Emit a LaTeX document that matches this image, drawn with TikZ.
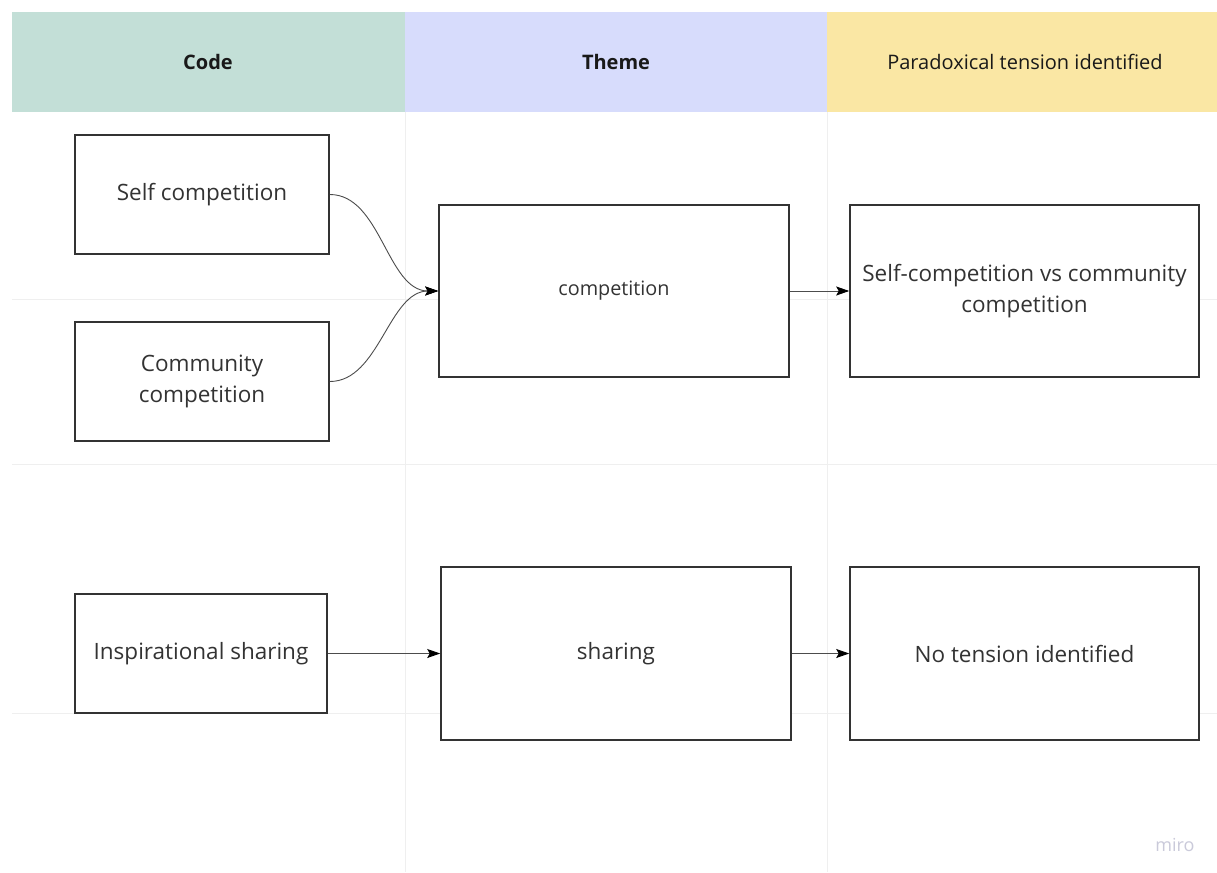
\documentclass[tikz,border=0pt]{standalone}
\usepackage{fontspec}
\setmainfont{Open Sans}
\usetikzlibrary{arrows.meta}
\definecolor{hdgreen}{HTML}{C3DFD7}
\definecolor{hdblue}{HTML}{D7DCFC}
\definecolor{hdyellow}{HTML}{FAE7A4}
\definecolor{gridc}{HTML}{EFEFEF}
\definecolor{boxtext}{HTML}{333333}
\definecolor{wm}{HTML}{CACADA}
\tikzset{
  card/.style={draw=black!80, line width=1.6pt, fill=white, text=boxtext,
    align=center, font=\fontsize{22.5}{31}\selectfont, inner sep=0pt},
  link/.style={draw=black!70, line width=0.9pt,
    -{Stealth[length=13pt,width=9pt,inset=2.5pt,color=black]}},
  headtext/.style={text=black!90, font=\fontsize{20}{24}\selectfont},
  gridline/.style={draw=gridc, line width=1pt}
}
\begin{document}
\begin{tikzpicture}[x=1pt,y=-1pt]
\useasboundingbox[fill=white] (0,0) rectangle (1217,872);
% faint grid
\draw[gridline] (405,112) -- (405,872);
\draw[gridline] (827,112) -- (827,872);
\draw[gridline] (12,299) -- (1217,299);
\draw[gridline] (12,464) -- (1217,464);
\draw[gridline] (12,713) -- (1217,713);
% header band
\fill[hdgreen] (12,12) rectangle (405,112);
\fill[hdblue] (405,12) rectangle (827,112);
\fill[hdyellow] (827,12) rectangle (1217,112);
\node[headtext, font=\fontsize{20}{24}\selectfont\bfseries] (hcode) at (208,62) {Code};
\node[headtext, font=\fontsize{20}{24}\selectfont\bfseries] (htheme) at (616,62) {Theme};
\node[headtext] (htension) at (1025,62) {Paradoxical tension identified};
% cards
\node[card, minimum width=254pt, minimum height=119pt] (self) at (202,194.5) {Self competition};
\node[card, minimum width=254pt, minimum height=119pt] (comm) at (202,381.5) {Community\\competition};
\node[card, minimum width=350pt, minimum height=172pt, font=\fontsize{19.8}{24}\selectfont] (comp) at (614,291) {competition};
\node[card, minimum width=349pt, minimum height=172pt] (vs) at (1024.5,291) {Self-competition vs community\\competition};
\node[card, minimum width=252pt, minimum height=119pt] (insp) at (201,653.5) {Inspirational sharing};
\node[card, minimum width=350pt, minimum height=173pt] (shar) at (616,653.5) {sharing};
\node[card, minimum width=349pt, minimum height=173pt] (none) at (1024.5,653.5) {No tension identified};
% connectors
\draw[link] (self.east) to[out=0, in=180, looseness=0.9] (comp.west);
\draw[link] (comm.east) to[out=0, in=180, looseness=0.9] (comp.west);
\draw[link] (comp.east) -- (vs.west);
\draw[link] (insp.east) -- (shar.west);
\draw[link] (shar.east) -- (none.west);
% watermark
\node[text=wm, font=\fontsize{18}{20}\selectfont] (logo) at (1175,845) {miro};
\end{tikzpicture}
\end{document}
